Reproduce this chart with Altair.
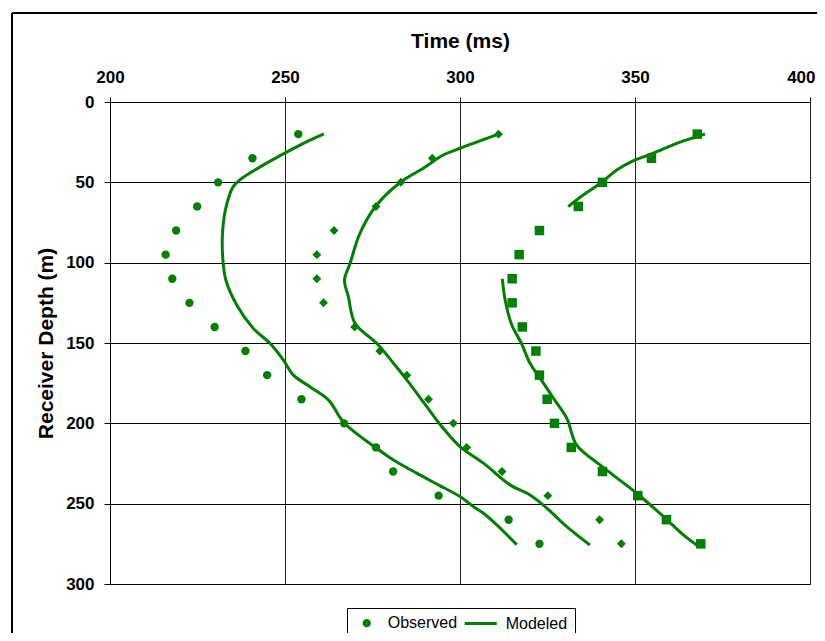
import altair as alt
import pandas as pd

# ---------------- data ----------------
depths = [20, 35, 50, 65, 80, 95, 110, 125, 140, 155, 170, 185, 200, 215, 230, 245, 260, 275]
obs_circle = [253.8, 240.7, 230.9, 224.9, 218.9, 215.9, 217.8, 222.7, 229.9, 238.7,
              244.9, 254.7, 266.9, 276.0, 280.9, 293.9, 313.9, 322.7]
obs_diamond = [311.0, 292.1, 283.1, 276.0, 264.0, 259.1, 259.1, 261.0, 269.9, 277.1,
               284.8, 291.0, 298.1, 301.9, 312.0, 325.1, 339.9, 346.1]
obs_square = [367.8, 354.7, 340.7, 333.8, 322.7, 316.9, 314.9, 314.9, 317.8, 321.7,
              322.7, 324.9, 327.0, 331.8, 340.7, 350.8, 359.0, 368.8]

mod1_t = [261.1, 254.3, 248.6, 241.9, 237.1, 235.2, 233.3, 232.2, 232.2, 233.1, 236.2, 240.9,
          245.7, 249.5, 252.4, 257.1, 262.4, 267.0, 276.2, 281.0, 287.6, 293.8, 300.0, 303.8,
          306.7, 310.5, 316.2]
mod1_d = [19.9, 26.8, 33.4, 41.7, 48.5, 52.7, 64.1, 79.7, 96.3, 110.8, 126.3, 140.8,
          150.2, 160.5, 170.0, 177.2, 185.4, 200.0, 215.5, 222.8, 231.0, 238.3, 245.6, 251.8,
          256.0, 263.2, 275.5]

mod2_t = [311.0, 300.0, 295.2, 289.5, 283.1, 276.2, 271.4, 268.6, 267.0, 268.1, 270.0, 276.2,
          281.0, 284.8, 290.5, 294.8, 300.0, 306.7, 314.3, 320.0, 324.3, 330.5, 337.1]
mod2_d = [20.0, 28.8, 33.0, 41.3, 49.8, 64.1, 81.7, 100.4, 110.8, 121.1, 137.7, 150.2,
          162.6, 173.0, 189.6, 202.0, 214.5, 224.8, 238.3, 244.6, 251.8, 264.3, 275.7]

mod3a_t = [370.0, 367.6, 361.9, 355.2, 349.0, 344.8, 340.7, 335.2, 330.9]
mod3a_d = [19.9, 21.6, 25.7, 31.9, 37.1, 42.3, 49.6, 57.9, 65.1]

mod3b_t = [312.1, 312.9, 314.8, 317.5, 320.0, 322.9, 326.7, 330.5, 333.3, 340.0, 350.5,
           358.1, 363.8, 367.6]
mod3b_d = [110.1, 123.2, 138.8, 150.0, 162.6, 171.9, 184.4, 196.8, 213.4, 225.9, 243.5,
           258.0, 269.4, 275.7]

x_ticks = [200, 250, 300, 350, 400]
y_ticks = [0, 50, 100, 150, 200, 250, 300]
series_names = ["circle", "diamond", "square"]
legend_labels = ["Observed", "Modeled"]

# ---------------- styling ----------------
GREEN = "#008000"
FONT = "Liberation Sans"
CIRCLE_PATH = ("M-0.41,0A0.41,0.41,0,1,0,0.41,0A0.41,0.41,0,1,0,-0.41,0Z"
               "M-0.18,0A0.18,0.18,0,1,0,0.18,0A0.18,0.18,0,1,0,-0.18,0Z")
LINE_PATH = "M-3.08,0L1.85,0"

obs_rows = []
for name, vals in zip(series_names, [obs_circle, obs_diamond, obs_square]):
    for d, t in zip(depths, vals):
        obs_rows.append({"series": name, "time": t, "depth": d})
obs_df = pd.DataFrame(obs_rows)

mod_rows = []
for seg, ts, ds in [("m1", mod1_t, mod1_d), ("m2", mod2_t, mod2_d),
                    ("m3a", mod3a_t, mod3a_d), ("m3b", mod3b_t, mod3b_d)]:
    for i, (t, d) in enumerate(zip(ts, ds)):
        mod_rows.append({"segment": seg, "idx": i, "time": t, "depth": d})
mod_df = pd.DataFrame(mod_rows)

x_scale = alt.Scale(domain=[200, 400], nice=False, zero=False)
y_scale = alt.Scale(domain=[0, 300], reverse=True, nice=False, zero=False)

last_x = f"datum.value >= {x_ticks[-1]}"
x_enc = alt.X("time:Q", scale=x_scale,
              axis=alt.Axis(orient="top", values=x_ticks, title="Time (ms)", tickSize=5,
                            labelPadding=11, titleY=-55, titleBaseline="alphabetic",
                            gridColor="#222222",
                            labelAlign={"condition": {"test": last_x, "value": "right"},
                                        "value": "center"},
                            labelOffset={"condition": {"test": last_x, "value": 5},
                                         "value": 0}))
y_enc = alt.Y("depth:Q", scale=y_scale,
              axis=alt.Axis(values=y_ticks, title="Receiver Depth (m)", tickSize=6,
                            labelPadding=10, titleX=-58, titleBaseline="alphabetic"))

lines = alt.Chart(mod_df).mark_line(color=GREEN, strokeWidth=3, interpolate="catmull-rom").encode(
    x=x_enc, y=y_enc, detail="segment:N", order="idx:Q")

points = alt.Chart(obs_df).mark_point(filled=True, color=GREEN, opacity=1, strokeWidth=0).encode(
    x=x_enc, y=y_enc,
    shape=alt.Shape("series:N", scale=alt.Scale(domain=series_names, range=series_names), legend=None),
    size=alt.Size("series:N", scale=alt.Scale(domain=series_names, range=[70, 90, 75]), legend=None),
)

legend_layer = alt.Chart(obs_df).transform_filter("datum.depth < 0").transform_calculate(
    kind="'Observed'").mark_point(filled=False, color=GREEN, opacity=1, strokeWidth=3).encode(
    x=x_enc, y=y_enc,
    shape=alt.Shape("kind:N", scale=alt.Scale(domain=legend_labels, range=[CIRCLE_PATH, LINE_PATH]),
                    legend=alt.Legend(title=None, orient="none", legendX=237, legendY=506,
                                      direction="horizontal", padding=7, strokeColor="black",
                                      fillColor="white", cornerRadius=0,
                                      symbolSize=169, symbolFillColor=GREEN,
                                      symbolStrokeColor=GREEN, symbolStrokeWidth=3,
                                      symbolOffset=4.7, labelOffset=13, columnPadding=0,
                                      labelFont=FONT, labelFontSize=16, labelColor="black",
                                      labelLimit=300)),
)

border_top = alt.Chart(obs_df).mark_rule(color="black", strokeWidth=1).encode(
    x=alt.value(-98), x2=alt.value(900), y=alt.value(-89))
border_left = alt.Chart(obs_df).mark_rule(color="black", strokeWidth=1).encode(
    x=alt.value(-98), y=alt.value(-89), y2=alt.value(800))

chart = alt.layer(border_top, border_left, lines, points, legend_layer).resolve_scale(
    shape="independent", size="independent"
).properties(
    width=700, height=482,
    autosize=alt.AutoSizeParams(type="none"),
    padding={"left": 102, "top": 94, "right": 7, "bottom": 49},
    background="white",
).configure_view(stroke="#808080", strokeWidth=1).configure_axis(
    labelFont=FONT, labelFontSize=17, labelFontWeight="bold", labelColor="black",
    titleFont=FONT, titleFontSize=21, titleFontWeight="bold", titleColor="black",
    domainColor="black", tickColor="black", gridColor="black", gridOpacity=1, grid=True,
    labelFlush=False, labelOverlap=False,
)

chart.save("out.html", embed_options={"renderer": "svg", "actions": False})
